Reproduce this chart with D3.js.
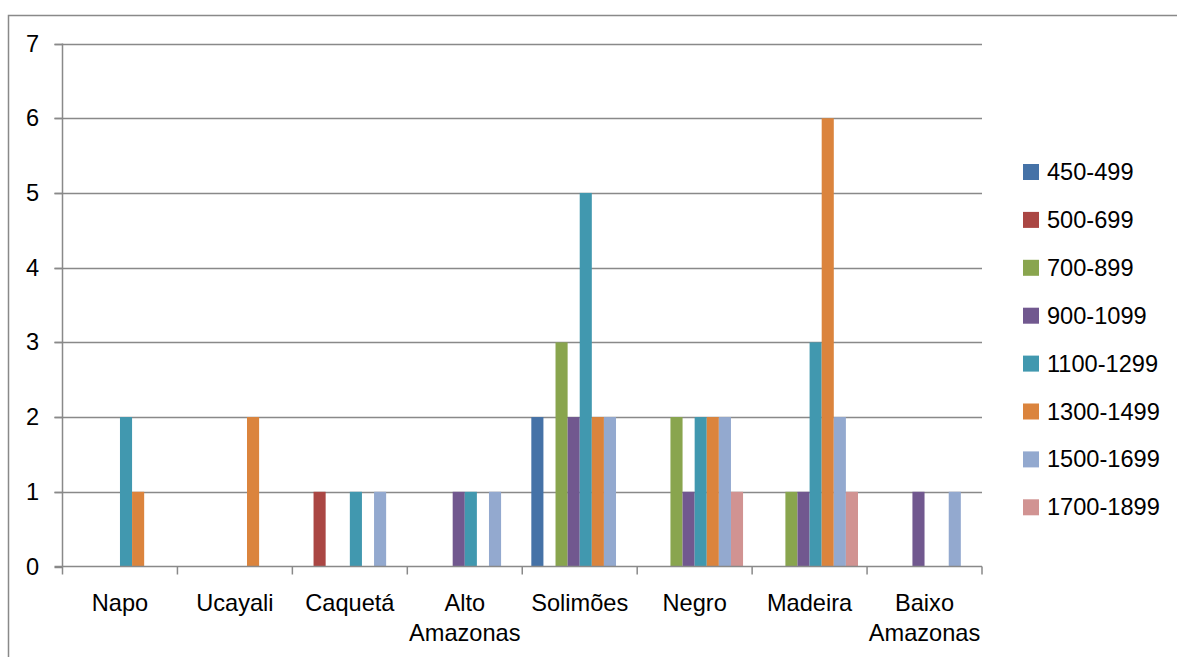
<!DOCTYPE html>
<html><head><meta charset="utf-8">
<script src="https://cdn.jsdelivr.net/npm/d3@7"></script>
<style>html,body{margin:0;padding:0;background:#fff;}svg{display:block;font-family:"Liberation Sans",Arial,sans-serif;}</style>
</head><body>
<svg id="c" width="1177" height="657"></svg>
<script>
const categories = ["Napo","Ucayali","Caquetá","Alto\nAmazonas","Solimões","Negro","Madeira","Baixo\nAmazonas"];
const seriesNames = ["450-499","500-699","700-899","900-1099","1100-1299","1300-1499","1500-1699","1700-1899"];
const colors = ["#4572A7","#AA4643","#89A54E","#71588F","#4198AF","#DB843D","#93A9CF","#D19392"];
const s450 = [0,0,0,0,2,0,0,0];
const s500 = [0,0,1,0,0,0,0,0];
const s700 = [0,0,0,0,3,2,1,0];
const s900 = [0,0,0,1,2,1,1,1];
const s1100 = [2,0,1,1,5,2,3,0];
const s1300 = [1,2,0,0,2,2,6,0];
const s1500 = [0,0,1,1,2,2,2,1];
const s1700 = [0,0,0,0,0,1,1,0];
const seriesValues = [s450,s500,s700,s900,s1100,s1300,s1500,s1700];
const yTicks = [0,1,2,3,4,5,6,7];

const svg = d3.select("#c");
const L = 62.5, R = 982, T = 43.5, B = 566.5;
const axisCol = "#898989";
const fs = 23.6;

svg.append("rect").attr("x",8.5).attr("y",15.5).attr("width",1200).attr("height",700)
  .attr("fill","none").attr("stroke",axisCol).attr("stroke-width",1.5);

const x0 = d3.scaleBand().domain(categories).range([L,R]).paddingInner(0).paddingOuter(0);
const x1 = d3.scaleBand().domain(seriesNames).range([0,x0.bandwidth()]).paddingInner(0).paddingOuter(0.75);
const y = d3.scaleLinear().domain([0,7]).range([B,T]);

// gridlines
svg.append("g").selectAll("line").data(yTicks.filter(d=>d>0)).join("line")
  .attr("x1",L-8).attr("x2",R).attr("y1",d=>Math.round(y(d))+0.5).attr("y2",d=>Math.round(y(d))+0.5)
  .attr("stroke",axisCol).attr("stroke-width",1.5);

// bars
const g = svg.append("g");
categories.forEach((c,ci)=>{
  seriesNames.forEach((s,si)=>{
    const v = seriesValues[si][ci];
    if(v>0){
      g.append("rect").attr("x",x0(c)+x1(s)).attr("width",x1.bandwidth())
        .attr("y",y(v)).attr("height",y(0)-y(v)).attr("fill",colors[si]);
    }
  });
});

// y axis
svg.append("line").attr("x1",L).attr("x2",L).attr("y1",T).attr("y2",B).attr("stroke",axisCol).attr("stroke-width",1.5);
svg.append("g").selectAll("line").data(yTicks).join("line")
  .attr("x1",L-8).attr("x2",L).attr("y1",d=>Math.round(y(d))+0.5).attr("y2",d=>Math.round(y(d))+0.5)
  .attr("stroke",axisCol).attr("stroke-width",1.5);
svg.append("g").selectAll("text").data(yTicks).join("text")
  .attr("x",39).attr("y",d=>y(d)+8).attr("text-anchor","end")
  .attr("font-size",fs).attr("fill","#000").text(d=>d);

// x axis
svg.append("line").attr("x1",L-8).attr("x2",R).attr("y1",B).attr("y2",B).attr("stroke",axisCol).attr("stroke-width",1.5);
const bounds = categories.map(c=>x0(c)).concat([R]);
svg.append("g").selectAll("line").data(bounds).join("line")
  .attr("x1",d=>d).attr("x2",d=>d).attr("y1",B).attr("y2",B+8)
  .attr("stroke",axisCol).attr("stroke-width",1.5);
const xl = svg.append("g").selectAll("text").data(categories).join("text")
  .attr("x",d=>x0(d)+x0.bandwidth()/2).attr("y",611)
  .attr("text-anchor","middle").attr("font-size",fs).attr("fill","#000");
xl.each(function(d){
  const lines = d.split("\n");
  const t = d3.select(this);
  lines.forEach((ln,i)=>{
    t.append("tspan").attr("x",x0(d)+x0.bandwidth()/2).attr("dy",i===0?0:30).text(ln);
  });
});

// legend
const lg = svg.append("g").selectAll("g").data(seriesNames).join("g")
  .attr("transform",(d,i)=>`translate(1023,${172+i*47.9})`);
lg.append("rect").attr("x",0).attr("y",-8).attr("width",16).attr("height",16).attr("fill",(d,i)=>colors[i]);
lg.append("text").attr("x",24).attr("y",8).attr("font-size",fs).attr("fill","#000").text(d=>d);
</script>
</body></html>
